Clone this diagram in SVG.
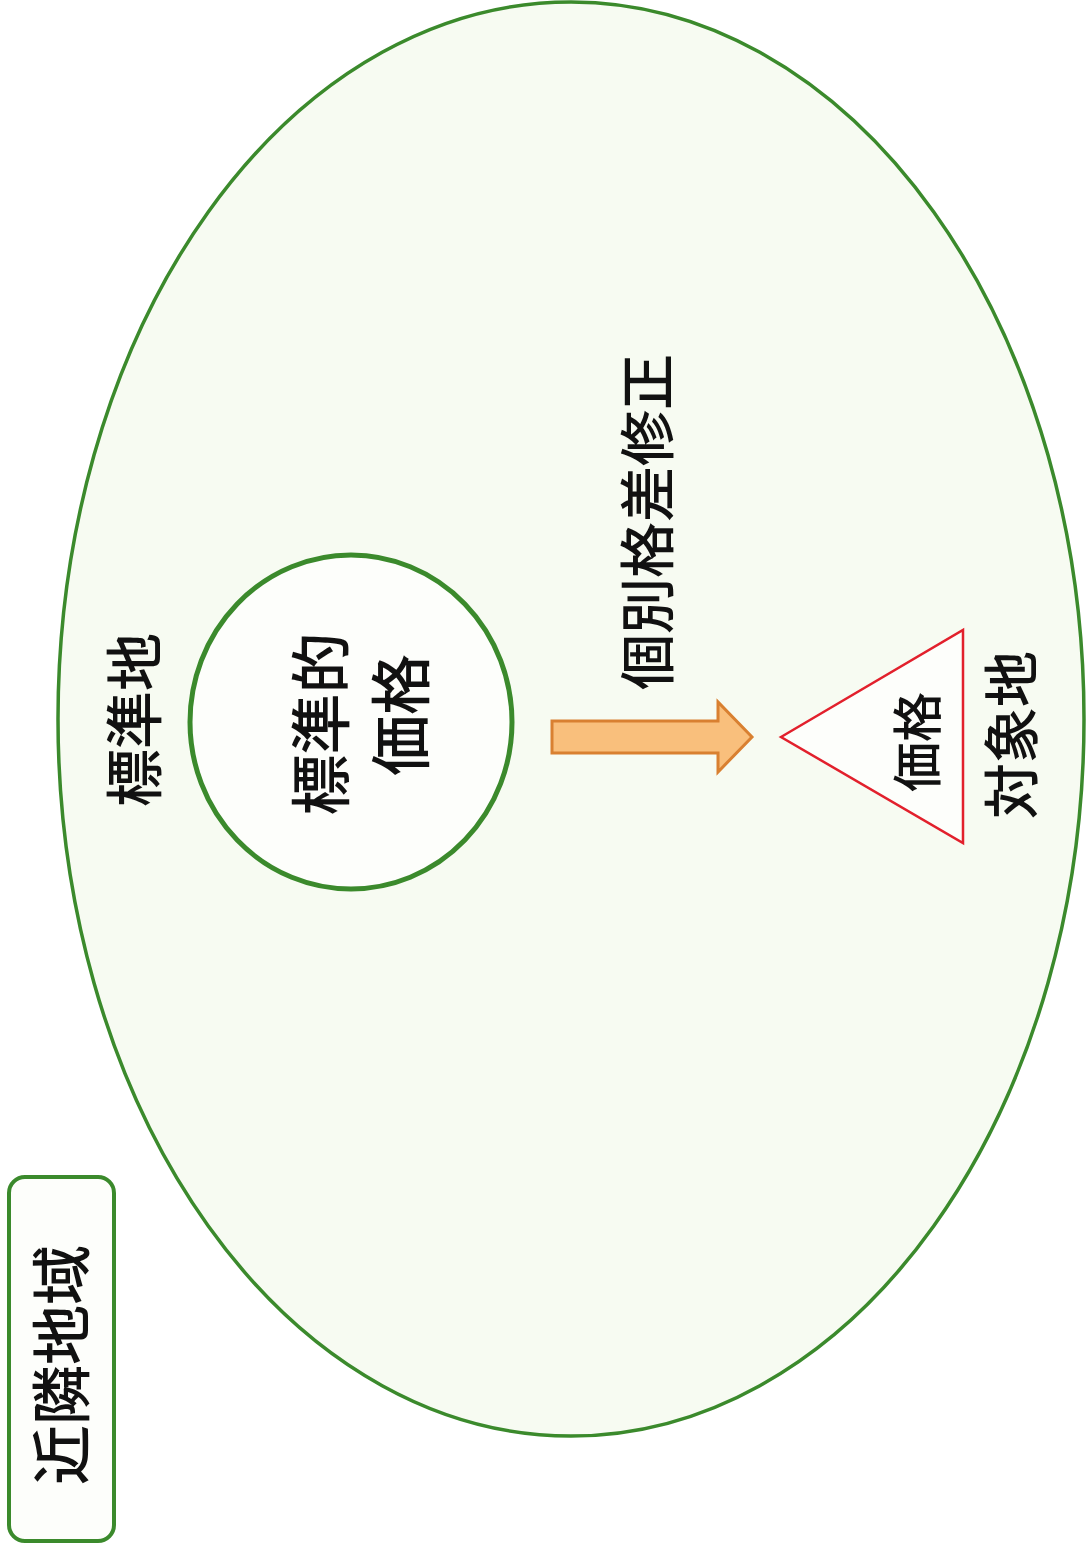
<svg xmlns="http://www.w3.org/2000/svg" width="1086" height="1554" viewBox="0 0 1086 1554">
<style>
.t{font-family:"Noto Sans CJK JP","Noto Sans CJK SC",sans-serif;font-weight:500;fill:#111;text-anchor:middle;dominant-baseline:central}
</style>
<rect width="1086" height="1554" fill="#ffffff"/>
<g id="neighborhood">
<ellipse cx="571" cy="719" rx="513" ry="717" fill="#f7fbf2" stroke="#3b8a2c" stroke-width="3.5"/>
</g>
<g id="label-box">
<rect x="9" y="1177" width="105" height="364" rx="16" fill="#fdfefb" stroke="#3b8a2c" stroke-width="4"/>
<text class="t" font-size="60" transform="translate(57,1365) rotate(-90)">近隣地域</text>
</g>
<g id="standard-land-label">
<text class="t" font-size="58" transform="translate(131,720) rotate(-90)">標準地</text>
</g>
<g id="standard-price">
<ellipse cx="351" cy="722" rx="161" ry="167" fill="#fdfefb" stroke="#3b8a2c" stroke-width="5"/>
<text class="t" font-size="61" transform="translate(317,724) rotate(-90)">標準的</text>
<text class="t" font-size="61" transform="translate(397,715) rotate(-90)">価格</text>
</g>
<g id="connectors">
<path d="M552,721 L718,721 L718,702 L752,737 L718,772 L718,753 L552,753 Z" fill="#f9bf7c" stroke="#d98031" stroke-width="3" stroke-linejoin="miter"/>
<text class="t" font-size="56" transform="translate(643,522) rotate(-90)">個別格差修正</text>
</g>
<g id="subject-land">
<polygon points="781,737 963,630 963,843" fill="#fdfefb" stroke="#e2202c" stroke-width="2.5"/>
<text class="t" font-size="50" transform="translate(914,742) rotate(-90)">価格</text>
<text class="t" font-size="56" transform="translate(1007,735) rotate(-90)">対象地</text>
</g>
</svg>
